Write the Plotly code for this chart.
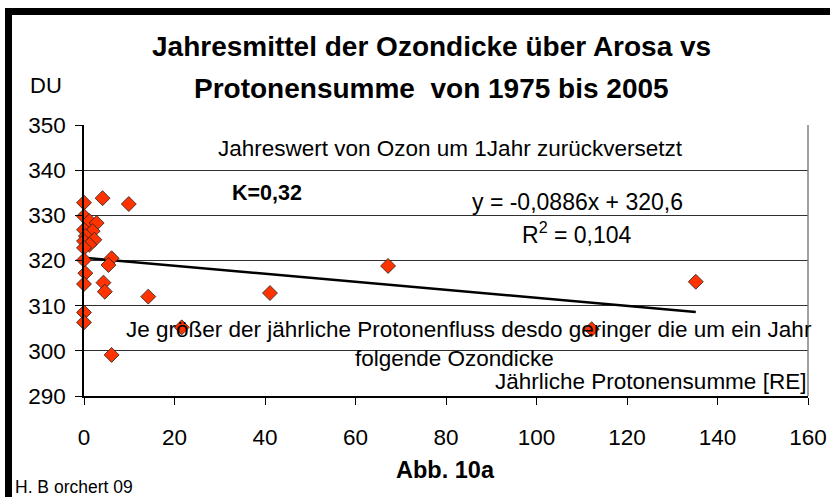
import plotly.graph_objects as go

# ---- data ----
proton_sum = [0, 4.1, 9.9, 0, 1.2, 2.8, 0, 1.9, 0.4, 0, 2.3, 1.2, 0, 0, 6.1, 5.4,
              0.3, 0, 4.3, 4.6, 14.2, 0, 0, 6.1, 21.6, 41.1, 67.2, 112.2, 135.2]
ozone_du = [332.8, 333.8, 332.5, 329.8, 328.7, 328.3, 326.8, 326.5, 325.4, 324.3,
            324.6, 323.5, 322.8, 320.1, 320.5, 319.0, 317.2, 314.8, 315.1, 313.1,
            312.0, 308.5, 306.3, 299.1, 305.2, 312.8, 318.8, 304.8, 315.3]
trend_slope = -0.0886
trend_intercept = 320.6
x_ticks = [0, 20, 40, 60, 80, 100, 120, 140, 160]
y_ticks = [290, 300, 310, 320, 330, 340, 350]

FONT = "Liberation Sans, Arial, sans-serif"

trend_x = [min(proton_sum), max(proton_sum)]
trend_y = [trend_slope * v + trend_intercept for v in trend_x]

fig = go.Figure()
fig.add_trace(go.Scatter(x=trend_x, y=trend_y, mode="lines",
                         line=dict(color="black", width=2.5), showlegend=False))
fig.add_trace(go.Scatter(x=proton_sum, y=ozone_du, mode="markers",
                         marker=dict(symbol="diamond", size=11.5, color="#FF3300",
                                     line=dict(color="#222222", width=0.8)),
                         showlegend=False, cliponaxis=False))

# plot area in pixels: left 84, right 808, top 125, bottom 396
L, R, T, B = 84, 808, 125, 396
W, H = 830, 497
def px(x):
    return (x - L) / (R - L)
def py(y):
    return (B - y) / (B - T)

shapes = [
    # thick frame: top and left black bars
    dict(type="rect", xref="paper", yref="paper", x0=px(5), x1=px(832), y0=py(15), y1=py(8),
         fillcolor="black", line=dict(width=0), layer="above"),
    dict(type="rect", xref="paper", yref="paper", x0=px(5), x1=px(12), y0=py(500), y1=py(8),
         fillcolor="black", line=dict(width=0), layer="above"),
    # right border of plot area
    dict(type="line", xref="paper", yref="paper", x0=1, x1=1, y0=0, y1=1,
         line=dict(color="#808080", width=1.5)),
]

def ann(text, x, y, size=22.5, bold=False, xanchor="center"):
    if bold:
        text = "<b>" + text + "</b>"
    return dict(text=text, xref="paper", yref="paper", x=px(x), y=py(y),
                xanchor=xanchor, yanchor="middle", showarrow=False,
                font=dict(family=FONT, size=size, color="black"))

annotations = [
    ann("Jahresmittel der Ozondicke über Arosa vs", 150, 47, size=28, bold=True, xanchor="left"),
    ann("Protonensumme  von 1975 bis 2005", 192, 88, size=28, bold=True, xanchor="left"),
    ann("DU", 46, 86, size=22),
    ann("Jahreswert von Ozon um 1Jahr zurückversetzt", 450, 148),
    ann("K=0,32", 267, 193, size=21.5, bold=True),
    ann("y = -0,0886x + 320,6", 577, 202, size=23),
    ann("R<sup>2</sup> = 0,104", 577, 233, size=23),
    ann("Je größer der jährliche Protonenfluss desdo geringer die um ein Jahr", 469, 329),
    ann("folgende Ozondicke", 454, 358),
    ann("Jährliche Protonensumme [RE]", 808, 381, xanchor="right"),
    ann("Abb. 10a", 445, 470, size=23.5, bold=True),
    ann("H. B orchert 09", 13, 487, size=17.5, xanchor="left"),
]

fig.update_layout(
    width=W, height=H,
    margin=dict(l=L, r=W - R, t=T, b=H - B, pad=0, autoexpand=False),
    paper_bgcolor="white", plot_bgcolor="white",
    font=dict(family=FONT, size=22.5, color="black"),
    shapes=shapes, annotations=annotations,
    showlegend=False,
)
fig.update_xaxes(range=[0, 160], tickvals=x_ticks, ticks="outside", ticklen=7,
                 tickcolor="black", showline=True, linecolor="black", linewidth=1.5,
                 showgrid=False, zeroline=False, ticklabelstandoff=13, automargin=False,
                 tickfont=dict(family=FONT, size=22.5))
fig.update_yaxes(range=[290, 350], tickvals=y_ticks, ticks="outside", ticklen=7,
                 tickcolor="black", showline=True, linecolor="black", linewidth=1.5,
                 showgrid=True, gridcolor="#303030", gridwidth=1, zeroline=False,
                 ticklabelstandoff=5, automargin=False,
                 tickfont=dict(family=FONT, size=22.5))

fig.write_html("out.html",
               config={"displayModeBar": False, "responsive": False},
               post_script="document.body.style.margin='0';document.body.style.padding='0';"
                           "document.body.style.overflow='hidden';")
